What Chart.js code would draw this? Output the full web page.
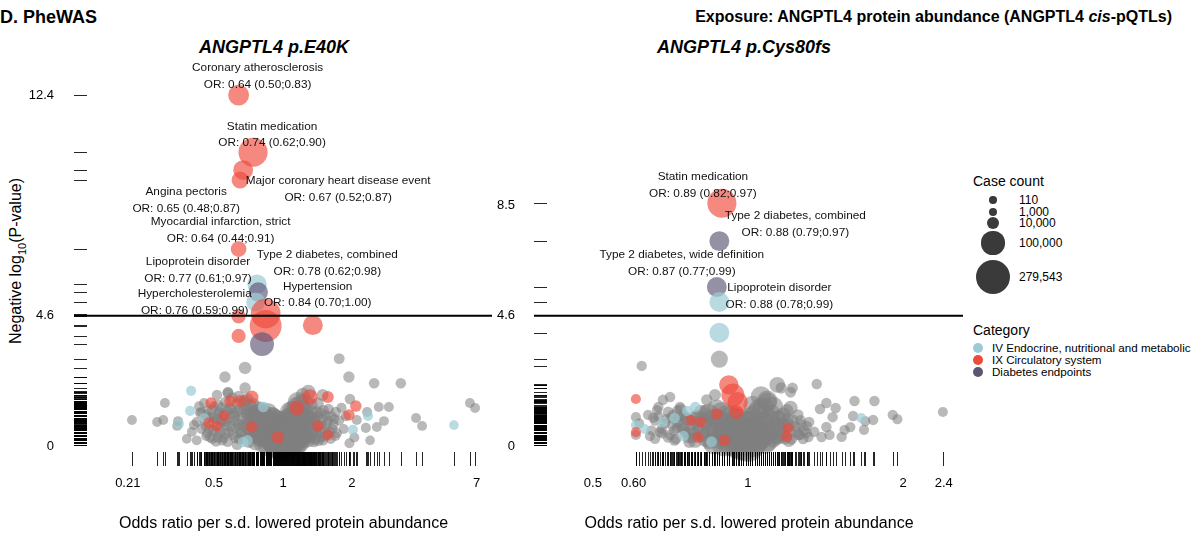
<!DOCTYPE html>
<html lang="en">
<head>
<meta charset="UTF-8">
<title>PheWAS</title>
<script src="https://cdn.jsdelivr.net/npm/chart.js@4.4.0/dist/chart.umd.min.js"></script>
<style>
	body { margin: 0; width: 1200px; height: 533px; position: relative; overflow: hidden; background: #fff;
		font-family: "Liberation Sans", Arial, sans-serif; color: #000; }
	.abs { position: absolute; white-space: nowrap; line-height: 1; }
	canvas { position: absolute; top: 0; }
	#c1 { left: 0; }
	#c2 { left: 470px; }
	.dot { position: absolute; border-radius: 50%; }
</style>
</head>
<body>

<div class="abs" style="left:0;top:8px;font-size:18px;font-weight:bold">D. PheWAS</div>
<div class="abs" style="right:28px;top:9px;font-size:16px;font-weight:bold">Exposure: ANGPTL4 protein abundance (ANGPTL4 <i>cis</i>-pQTLs)</div>
<div class="abs" style="left:274px;top:38px;transform:translateX(-50%);font-size:18px;font-weight:bold;font-style:italic">ANGPTL4 p.E40K</div>
<div class="abs" style="left:744px;top:38px;transform:translateX(-50%);font-size:18px;font-weight:bold;font-style:italic">ANGPTL4 p.Cys80fs</div>
<div class="abs" style="left:18px;top:261px;transform:translate(-50%,-50%) rotate(-90deg);font-size:16px">Negative log<sub style="font-size:11px">10</sub>(P-value)</div>

<canvas id="c1" width="500" height="533"></canvas>
<canvas id="c2" width="500" height="533"></canvas>
<div id="legend"></div>

<script>
	// categories and legend
	const categories = ['IV Endocrine, nutritional and metabolic', 'IX Circulatory system', 'Diabetes endpoints']
	const catColors = ['#9ccbd5', '#f04a3a', '#5e5574']
	const catFill = ['rgba(156,203,213,0.7)', 'rgba(240,74,58,0.65)', 'rgba(94,85,116,0.65)']
	const grayFill = 'rgba(128,128,128,0.55)'
	const caseCountLegend = [110, 1000, 10000, 100000, 279543]
	const threshold = 4.6

	// ---- ANGPTL4 p.E40K ----
	const e40kHitNames = ['Coronary atherosclerosis', 'Statin medication', 'Major coronary heart disease event', 'Angina pectoris',
		'Myocardial infarction, strict', 'Lipoprotein disorder', 'Type 2 diabetes, combined', 'Hypercholesterolemia', 'Hypertension']
	const e40kHitOR = [0.64, 0.74, 0.67, 0.65, 0.64, 0.77, 0.78, 0.76, 0.84]
	const e40kHitLo = [0.50, 0.62, 0.52, 0.48, 0.44, 0.61, 0.62, 0.59, 0.70]
	const e40kHitHi = [0.83, 0.90, 0.87, 0.87, 0.91, 0.97, 0.98, 0.99, 1.00]
	const e40kHitLogP = [12.4, 10.38, 9.75, 9.40, 6.96, 5.72, 5.44, 5.09, 4.68]
	const e40kHitCases = [75000, 190000, 65000, 40000, 30000, 60000, 60000, 55000, 200000]
	const e40kHitCat = [1, 1, 1, 1, 1, 0, 2, 0, 1]

	// other phenotypes: [OR, -log10 P, cases]
	const e40kEndo = [[0.397, 1.95, 4000], [0.393, 1.24, 4000], [0.452, 0.99, 4000], [0.351, 0.78, 4000], [5.58, 0.74, 3000],
		[2.35, 1.06, 4000], [2.02, 0.57, 4000], [0.70, 0.2, 5000], [0.82, 1.38, 6000], [0.67, 0.14, 5000]]
	const e40kCirc = [[0.84, 4.24, 240000], [1.35, 4.27, 65000], [0.64, 4.58, 20000], [0.64, 3.89, 20000],
		[0.485, 1.52, 8000], [0.475, 0.81, 8000], [0.515, 0.71, 6000], [0.553, 1.06, 6000], [0.587, 1.59, 8000],
		[0.65, 1.59, 10000], [0.732, 1.73, 15000], [1.31, 1.73, 30000], [1.57, 1.73, 10000], [2.08, 1.41, 8000],
		[1.94, 1.1, 8000], [1.57, 0.39, 6000], [1.42, 0.71, 8000], [1.15, 1.34, 25000], [0.73, 0.67, 8000], [0.95, 0.3, 12000]]
	const e40kDiab = [[0.81, 3.6, 112000]]
	const e40kGray = [
		[1.76, 3.09, 6000], [0.683, 2.76, 12000], [0.558, 2.44, 8000], [1.94, 2.44, 8000], [2.5, 2.22, 5000], [3.27, 2.22, 5000],
		[0.683, 2.05, 8000], [0.515, 1.8, 5000], [0.575, 1.9, 6000], [1.29, 1.9, 25000], [1.22, 1.8, 22000], [1.49, 1.8, 10000],
		[1.96, 1.66, 5000], [6.55, 1.52, 3500], [6.9, 1.34, 3500], [3.81, 0.99, 3500], [4.05, 0.71, 3500], [2.9, 1.38, 3500],
		[2.62, 1.38, 3500], [2.33, 1.2, 4000], [2.76, 0.88, 3500], [2.57, 0.67, 3500], [2.3, 0.64, 4000], [2.1, 0.92, 4000],
		[0.219, 0.92, 3500], [0.282, 0.85, 3500], [0.30, 0.92, 3500], [0.305, 1.52, 3500], [0.348, 0.88, 3500], [0.345, 0.71, 3500],
		[0.408, 0.74, 3500], [0.452, 1.52, 4000], [0.434, 1.17, 4000], [0.575, 1.87, 6000], [0.52, 1.45, 5000], [0.53, 0.46, 5000],
		[0.466, 0.46, 4000], [0.495, 0.57, 5000],
		[0.60, 1.3, 6000], [0.62, 0.9, 5000], [0.63, 1.5, 6000], [0.65, 0.6, 6000], [0.66, 1.2, 8000], [0.67, 0.35, 5000],
		[0.68, 1.6, 10000], [0.69, 0.9, 8000], [0.70, 1.3, 12000], [0.71, 0.5, 8000], [0.72, 1.1, 15000], [0.73, 0.75, 12000],
		[0.74, 1.45, 20000], [0.75, 0.3, 10000], [0.76, 1.0, 20000], [0.77, 0.6, 18000], [0.78, 1.3, 30000], [0.79, 0.2, 15000],
		[0.80, 0.85, 35000], [0.81, 0.45, 30000], [0.82, 1.15, 40000], [0.83, 0.7, 45000], [0.84, 0.25, 35000], [0.85, 1.0, 50000],
		[0.86, 0.55, 60000], [0.87, 0.15, 50000], [0.88, 0.85, 70000], [0.89, 0.4, 80000], [0.90, 1.05, 50000], [0.91, 0.1, 90000],
		[0.92, 0.65, 100000], [0.93, 0.3, 110000], [0.94, 0.9, 60000], [0.95, 0.05, 150000], [0.96, 0.5, 120000],
		[0.97, 0.2, 180000], [0.98, 0.75, 90000], [0.99, 0.02, 250000], [1.00, 0.35, 160000], [1.01, 0.1, 220000],
		[1.02, 0.6, 110000], [1.03, 0.25, 170000], [1.04, 0.85, 80000], [1.05, 0.05, 200000],
		[1.06, 0.45, 120000], [1.07, 1.0, 70000], [1.08, 0.2, 140000], [1.09, 0.7, 90000], [1.10, 1.25, 60000], [1.11, 0.35, 100000],
		[1.12, 0.9, 70000], [1.13, 0.1, 80000], [1.14, 1.4, 50000], [1.15, 0.55, 60000], [1.16, 1.1, 60000], [1.17, 0.25, 40000],
		[1.18, 0.8, 40000], [1.19, 1.5, 45000], [1.20, 0.45, 30000],
		[1.22, 1.0, 25000], [1.23, 0.15, 20000], [1.25, 1.3, 30000], [1.26, 0.65, 20000], [1.28, 0.35, 15000], [1.30, 1.05, 15000],
		[1.32, 1.45, 20000], [1.34, 0.6, 12000], [1.36, 0.9, 12000], [1.38, 0.25, 8000], [1.40, 1.2, 10000], [1.42, 1.5, 10000],
		[1.45, 0.55, 8000], [1.48, 0.95, 8000], [1.50, 1.25, 8000], [1.52, 0.35, 6000], [1.55, 0.8, 6000], [1.58, 1.3, 6000],
		[1.60, 0.5, 5000], [1.63, 1.05, 5000], [1.66, 0.75, 5000], [1.70, 1.2, 5000], [1.72, 0.45, 4000], [1.76, 0.9, 4000],
		[1.80, 1.35, 4000], [1.84, 0.6, 4000], [1.88, 1.05, 4000],
		[0.40, 0.5, 3500], [0.42, 0.85, 3500], [0.44, 1.2, 4000], [0.46, 0.7, 4000], [0.47, 1.0, 4000], [0.48, 0.3, 4000],
		[0.49, 1.3, 5000], [0.50, 0.85, 5000], [0.51, 0.15, 4000], [0.52, 1.1, 5000], [0.53, 0.65, 5000], [0.54, 1.35, 6000],
		[0.55, 0.3, 5000], [0.56, 0.95, 6000], [0.57, 1.25, 6000], [0.58, 0.5, 5000], [0.59, 1.0, 6000],
		[0.38, 0.25, 3000], [2.05, 0.3, 3500], [2.4, 0.2, 3000], [1.95, 0.1, 3500],
		[0.76, 0.15, 40000], [0.78, 0.75, 50000], [0.79, 1.0, 60000], [0.80, 0.35, 70000], [0.81, 1.25, 40000], [0.82, 0.6, 90000],
		[0.83, 0.1, 80000], [0.84, 0.95, 70000], [0.85, 0.4, 110000], [0.86, 1.2, 50000], [0.87, 0.75, 100000], [0.88, 0.05, 120000],
		[0.89, 1.0, 80000], [0.90, 0.55, 130000], [0.91, 0.3, 150000], [0.92, 0.95, 70000], [0.93, 0.15, 170000], [0.94, 0.6, 140000],
		[0.95, 0.4, 180000], [0.96, 0.85, 90000], [0.97, 0.1, 230000], [0.98, 0.45, 200000], [0.99, 0.6, 150000], [1.00, 0.15, 270000],
		[1.01, 0.5, 190000], [1.02, 0.05, 240000], [1.03, 0.7, 130000], [1.04, 0.4, 180000], [1.05, 0.9, 100000], [1.06, 0.15, 200000],
		[1.07, 0.6, 140000], [1.08, 1.2, 80000], [1.09, 0.35, 160000], [1.10, 0.85, 110000], [1.11, 0.05, 150000], [1.12, 0.6, 120000],
		[1.13, 1.15, 80000], [1.14, 0.3, 100000], [1.15, 0.85, 90000], [1.16, 1.55, 70000], [1.17, 0.6, 70000], [1.18, 0.1, 60000],
		[1.19, 1.0, 60000], [1.20, 1.3, 50000], [1.21, 0.75, 40000], [1.22, 0.3, 35000], [1.24, 1.55, 45000], [1.25, 0.5, 30000],
		[1.27, 1.0, 25000], [1.29, 0.2, 20000], [1.31, 0.8, 18000], [1.33, 1.2, 15000], [1.35, 0.45, 12000], [1.37, 1.0, 10000],
		[1.39, 0.6, 9000], [1.43, 0.2, 8000], [1.46, 1.15, 8000],
		[0.62, 0.3, 8000], [0.64, 0.75, 10000], [0.66, 0.45, 10000], [0.68, 1.3, 12000], [0.70, 0.8, 15000], [0.71, 0.15, 12000],
		[0.72, 1.4, 20000], [0.73, 0.45, 20000], [0.74, 0.9, 25000], [0.75, 1.2, 30000], [0.77, 0.4, 30000], [0.61, 1.15, 6000],
		[0.63, 0.05, 6000], [0.57, 0.7, 5000], [0.54, 0.9, 5000], [0.50, 1.05, 4500], [0.46, 1.1, 4000], [0.44, 0.6, 3500],
		[0.43, 1.4, 4000], [0.42, 0.2, 3500], [0.56, 1.55, 6000], [0.60, 1.7, 7000], [0.64, 1.75, 8000], [0.67, 1.55, 10000],
		[0.70, 1.65, 12000],
		[0.455, 0.9, 3500], [0.462, 0.35, 3500], [0.468, 1.25, 3500], [0.476, 0.6, 3500], [0.483, 1.0, 4000], [0.491, 0.25, 4000],
		[0.498, 1.4, 4000], [0.506, 0.5, 4000], [0.513, 0.95, 4000], [0.521, 0.3, 4500], [0.527, 1.2, 4500], [0.535, 0.8, 4500],
		[0.543, 0.2, 4500], [0.548, 1.15, 5000], [0.562, 0.45, 5000], [0.567, 0.85, 5000], [0.573, 0.15, 5000], [0.585, 1.35, 5000],
		[0.593, 0.7, 5500], [0.605, 0.4, 6000], [0.615, 1.05, 6000], [0.625, 0.65, 6000], [0.635, 1.25, 7000], [0.645, 0.25, 7000],
		[0.655, 0.95, 7000], [0.675, 0.7, 8000], [0.685, 0.25, 8000], [0.695, 1.15, 9000], [0.705, 0.6, 9000], [0.715, 0.9, 10000],
		[0.725, 0.3, 10000], [0.735, 1.2, 12000], [0.745, 0.55, 12000],
		[1.215, 0.55, 12000], [1.235, 0.9, 12000], [1.245, 0.25, 10000], [1.265, 1.1, 10000], [1.275, 0.45, 9000], [1.295, 0.85, 9000],
		[1.315, 0.3, 8000], [1.325, 1.0, 8000], [1.345, 0.55, 7000], [1.365, 0.15, 7000], [1.385, 0.8, 6000], [1.405, 0.45, 6000],
		[1.415, 1.05, 6000], [1.435, 0.7, 5500], [1.455, 0.3, 5000], [1.475, 0.75, 5000], [1.495, 0.2, 5000], [1.515, 0.6, 4500],
		[1.535, 1.1, 4500], [1.565, 0.45, 4500], [1.585, 0.9, 4000], [1.615, 0.25, 4000], [1.645, 0.6, 4000], [1.675, 0.95, 4000],
		[1.695, 0.35, 3500]]
	const e40kXTicks = [0.21, 0.5, 1, 2, 7]
	const e40kXTickLabels = ['0.21', '0.5', '1', '2', '7']
	const e40kYTicks = [0, 4.6, 12.4]

	// ---- ANGPTL4 p.Cys80fs ----
	const cysHitNames = ['Statin medication', 'Type 2 diabetes, combined', 'Type 2 diabetes, wide definition', 'Lipoprotein disorder']
	const cysHitOR = [0.89, 0.88, 0.87, 0.88]
	const cysHitLo = [0.82, 0.79, 0.77, 0.78]
	const cysHitHi = [0.97, 0.97, 0.99, 0.99]
	const cysHitLogP = [8.58, 7.24, 5.62, 5.09]
	const cysHitCases = [190000, 65000, 65000, 65000]
	const cysHitCat = [1, 2, 2, 0]

	const cysEndo = [[0.88, 4.0, 65000], [0.606, 0.74, 4000], [0.79, 1.38, 5000], [0.762, 1.24, 5000], [0.72, 0.99, 5000],
		[0.684, 0.85, 5000], [1.66, 0.99, 4000], [0.75, 0.35, 5000], [0.85, 0.15, 6000], [0.63, 0.6, 4000]]
	const cysCirc = [[0.918, 2.16, 60000], [0.935, 1.8, 100000], [0.606, 1.66, 4000], [0.955, 1.55, 70000], [0.775, 0.92, 5000],
		[0.81, 0.85, 6000], [0.606, 0.49, 4000], [0.87, 1.13, 8000], [1.195, 0.64, 6000], [1.19, 0.32, 6000], [0.9, 0.2, 8000],
		[0.95, 1.2, 20000], [0.8, 0.3, 6000]]
	const cysDiab = []
	const cysGray = [
		[0.88, 3.07, 40000], [0.622, 2.83, 4500], [1.14, 2.16, 30000], [1.16, 2.05, 8000], [1.22, 2.05, 6000], [1.21, 1.9, 6000],
		[1.36, 2.19, 5000], [1.61, 1.59, 5000], [1.76, 1.59, 5000], [2.39, 1.2, 4000], [1.91, 1.1, 4500], [1.95, 0.95, 4500],
		[1.75, 0.92, 4500], [1.6, 1.06, 4500], [1.69, 0.88, 4500], [1.54, 0.57, 4500], [1.58, 0.67, 4500], [1.68, 0.57, 4000],
		[1.52, 0.32, 4500], [1.46, 1.02, 5000], [1.48, 1.34, 5000], [1.42, 1.52, 5000], [1.38, 1.31, 5000], [1.30, 0.71, 5000],
		[1.42, 0.67, 5000], [1.44, 0.39, 4500], [1.39, 0.32, 5000], [1.30, 0.46, 5000], [1.31, 0.32, 5000], [1.26, 0.39, 5000],
		[0.606, 1.02, 4000], [0.606, 0.39, 4000], [0.666, 1.27, 4500], [0.684, 1.63, 5000], [0.706, 1.73, 5000], [0.67, 1.38, 4500],
		[0.712, 0.74, 4500], [0.738, 1.38, 5000], [0.735, 1.02, 5000], [0.825, 1.27, 6000], [0.832, 1.63, 8000], [0.863, 1.8, 10000],
		[0.728, 0.64, 5000], [0.755, 0.46, 5000], [0.807, 0.32, 6000],
		[0.74, 0.8, 6000], [0.75, 1.1, 8000], [0.76, 0.5, 6000], [0.77, 0.9, 10000], [0.78, 0.3, 8000], [0.79, 1.05, 12000],
		[0.80, 0.65, 15000], [0.81, 1.2, 20000], [0.82, 0.4, 20000], [0.83, 0.85, 30000], [0.84, 0.15, 25000], [0.85, 1.0, 40000],
		[0.86, 0.55, 50000], [0.87, 1.3, 60000], [0.88, 0.25, 70000], [0.89, 0.8, 80000], [0.90, 0.45, 100000], [0.91, 1.1, 70000],
		[0.92, 0.1, 120000], [0.93, 0.7, 110000], [0.94, 0.35, 150000], [0.95, 0.95, 90000], [0.96, 0.05, 200000], [0.97, 0.55, 160000],
		[0.98, 0.2, 220000], [0.99, 0.8, 120000], [1.00, 0.02, 260000], [1.01, 0.4, 180000], [1.02, 1.0, 90000], [1.03, 0.15, 150000],
		[1.04, 0.6, 110000], [1.05, 1.3, 70000], [1.06, 0.3, 100000], [1.07, 0.85, 80000], [1.08, 0.1, 80000], [1.09, 1.55, 60000],
		[1.10, 0.5, 60000], [1.11, 1.15, 50000], [1.12, 0.25, 40000], [1.13, 0.75, 40000], [1.15, 1.0, 30000], [1.16, 0.4, 25000],
		[1.18, 0.7, 20000], [1.19, 1.25, 15000], [1.20, 0.2, 15000], [1.22, 0.9, 12000], [1.24, 0.5, 10000], [1.25, 1.1, 8000],
		[1.27, 0.75, 6000], [1.28, 0.25, 6000],
		[0.70, 0.3, 5000], [0.71, 1.0, 6000], [0.72, 0.55, 6000], [0.73, 1.25, 6000], [0.69, 0.8, 5000], [0.68, 0.45, 5000],
		[0.66, 0.9, 4500], [0.65, 0.55, 4500], [0.64, 1.1, 4500],
		[1.06, 1.75, 70000], [1.09, 1.6, 70000], [1.02, 1.45, 50000],
		[0.78, 0.6, 20000], [0.79, 0.2, 25000], [0.80, 1.0, 30000], [0.81, 0.5, 35000], [0.82, 0.9, 45000], [0.83, 0.3, 55000],
		[0.84, 1.15, 60000], [0.85, 0.7, 80000], [0.86, 0.1, 90000], [0.87, 0.9, 100000], [0.88, 0.45, 120000], [0.89, 1.15, 90000],
		[0.90, 0.1, 150000], [0.91, 0.7, 140000], [0.92, 0.4, 180000], [0.93, 1.0, 110000], [0.94, 0.15, 200000], [0.95, 0.6, 170000],
		[0.96, 0.35, 220000], [0.97, 0.85, 140000], [0.98, 0.05, 250000], [0.99, 0.5, 200000], [1.00, 0.3, 230000], [1.01, 0.75, 150000],
		[1.02, 0.15, 210000], [1.03, 0.55, 160000], [1.04, 1.1, 100000], [1.05, 0.3, 140000], [1.06, 0.8, 110000], [1.07, 1.35, 80000],
		[1.08, 0.5, 100000], [1.09, 0.2, 90000], [1.10, 0.9, 80000], [1.11, 0.6, 60000], [1.12, 1.4, 60000], [1.13, 0.35, 40000],
		[1.14, 0.95, 40000], [1.15, 0.6, 30000], [1.17, 1.1, 25000], [1.18, 0.3, 20000], [1.20, 0.75, 15000], [1.21, 1.35, 20000],
		[0.72, 0.2, 6000], [0.73, 0.85, 8000], [0.74, 1.3, 8000], [0.75, 0.6, 10000], [0.76, 0.95, 12000], [0.77, 0.15, 12000],
		[0.70, 1.2, 6000], [0.68, 0.6, 5000], [0.66, 0.25, 4500], [0.67, 1.05, 5000],
		[0.615, 0.8, 4000], [0.645, 0.35, 4000], [0.655, 1.0, 4500], [0.675, 0.5, 4500], [0.695, 0.95, 5000], [0.705, 0.4, 5000],
		[0.715, 1.1, 5000], [0.725, 0.25, 5500], [0.745, 0.65, 6000], [0.755, 1.0, 6000], [0.765, 0.3, 7000], [0.775, 0.75, 8000],
		[0.785, 0.45, 9000], [0.795, 0.85, 10000],
		[1.145, 0.3, 20000], [1.165, 0.8, 15000], [1.175, 0.45, 12000], [1.195, 0.95, 10000], [1.205, 0.55, 10000], [1.215, 0.25, 8000],
		[1.235, 0.7, 8000], [1.255, 0.4, 7000], [1.265, 0.9, 6000], [1.285, 0.55, 6000], [1.315, 0.85, 5000], [1.345, 0.5, 5000]]
	const cysXTicks = [0.5, 0.6, 1, 2, 2.4]
	const cysXTickLabels = ['0.5', '0.60', '1', '2', '2.4']
	const cysYTicks = [0, 4.6, 8.5]

	// label placement (pixel offsets from the point: dx, dy of first line)
	const e40kLabelPos = [[19, -27], [19, -26], [95, 11], [-54, 12], [-18, -27], [-59, -22], [69, -37], [-61, -8], [52, -27]]
	const cysLabelPos = [[-19, -26], [76, -25], [-35, -32], [60, -14]]

	Chart.defaults.font.family = '"Liberation Sans", Arial, sans-serif'
	Chart.defaults.color = '#000'

	function radius(n) {
		return 3.45 + 0.0255 * Math.sqrt(n)
	}

	function toBubbles(rows) {
		return rows.map(r => ({x: r[0], y: r[1], r: radius(r[2])}))
	}

	function makePanel(id, p) {
		const hits = p.hitOR.map((or, i) => ({x: or, y: p.hitLogP[i], r: radius(p.hitCases[i])}))
		const allPts = [].concat(p.gray, p.endo, p.circ, p.diab, p.hitOR.map((or, i) => [or, p.hitLogP[i]]))

		const panelPlugin = {
			id: 'panel_' + id,
			afterDatasetsDraw(chart) {
				const {ctx, chartArea: a, scales: {x, y}} = chart
				ctx.save()
				// rugs
				ctx.strokeStyle = 'rgba(0,0,0,0.85)'
				ctx.lineWidth = 1
				ctx.beginPath()
				allPts.forEach(pt => {
					const px = Math.round(x.getPixelForValue(pt[0])) + 0.5
					ctx.moveTo(px, a.bottom + 6)
					ctx.lineTo(px, a.bottom + 20)
					const py = Math.round(y.getPixelForValue(pt[1])) + 0.5
					ctx.moveTo(a.left - 1, py)
					ctx.lineTo(a.left + 12, py)
				})
				ctx.stroke()
				// significance line
				const ty = y.getPixelForValue(threshold)
				ctx.strokeStyle = '#000'
				ctx.lineWidth = 2
				ctx.beginPath()
				ctx.moveTo(a.left - 1, ty)
				ctx.lineTo(a.right, ty)
				ctx.stroke()
				// labels
				ctx.fillStyle = '#111'
				ctx.font = '11.8px "Liberation Sans", Arial, sans-serif'
				ctx.textAlign = 'center'
				ctx.textBaseline = 'middle'
				p.hitNames.forEach((name, i) => {
					const px = x.getPixelForValue(p.hitOR[i])
					const py = y.getPixelForValue(p.hitLogP[i])
					const [dx, dy] = p.labelPos[i]
					ctx.fillText(name, px + dx, py + dy)
					const orText = 'OR: ' + p.hitOR[i].toFixed(2) + ' (' + p.hitLo[i].toFixed(2) + ';' + p.hitHi[i].toFixed(2) + ')'
					ctx.fillText(orText, px + dx, py + dy + 16.5)
				})
				ctx.restore()
			}
		}

		return new Chart(document.getElementById(id), {
			type: 'bubble',
			data: {
				datasets: [
					{label: 'hits', data: hits, backgroundColor: p.hitCat.map(c => catFill[c]), borderWidth: 0, order: 1, clip: false},
					{label: categories[2], data: toBubbles(p.diab), backgroundColor: catFill[2], borderWidth: 0, order: 2, clip: false},
					{label: categories[1], data: toBubbles(p.circ), backgroundColor: catFill[1], borderWidth: 0, order: 3, clip: false},
					{label: categories[0], data: toBubbles(p.endo), backgroundColor: catFill[0], borderWidth: 0, order: 4, clip: false},
					{label: 'other', data: toBubbles(p.gray), backgroundColor: grayFill, borderWidth: 0, order: 5, clip: false}
				]
			},
			options: {
				responsive: false,
				animation: false,
				events: [],
				layout: {autoPadding: false, padding: {top: 60, right: p.padRight, left: 0, bottom: 0}},
				plugins: {legend: {display: false}, tooltip: {enabled: false}},
				scales: {
					x: {
						type: 'logarithmic',
						min: p.xMin,
						max: p.xMax,
						afterBuildTicks: s => { s.ticks = p.xTicks.map(v => ({value: v})) },
						afterFit: s => { s.height = 87 },
						// invisible tick marks push the labels down without widening the side padding
						grid: {display: true, drawOnChartArea: false, drawTicks: true, tickLength: 30, color: 'rgba(0,0,0,0)'},
						border: {display: false},
						ticks: {
							autoSkip: false, maxRotation: 0, padding: 0, font: {size: 13},
							callback: (v, i) => p.xTickLabels[i]
						},
						title: {display: true, text: 'Odds ratio per s.d. lowered protein abundance', font: {size: 16}, padding: {top: 0, bottom: 0}}
					},
					y: {
						min: 0,
						max: 13.64,
						afterBuildTicks: s => { s.ticks = p.yTicks.map(v => ({value: v})) },
						afterFit: s => { s.width = p.yWidth },
						grid: {display: false},
						border: {display: false},
						ticks: {padding: p.yPad, font: {size: 13}, callback: v => String(v)}
					}
				}
			},
			plugins: [panelPlugin]
		})
	}

	makePanel('c1', {
		hitNames: e40kHitNames, hitOR: e40kHitOR, hitLo: e40kHitLo, hitHi: e40kHitHi, hitLogP: e40kHitLogP,
		hitCases: e40kHitCases, hitCat: e40kHitCat, labelPos: e40kLabelPos,
		gray: e40kGray, endo: e40kEndo, circ: e40kCirc, diab: e40kDiab,
		xTicks: e40kXTicks, xTickLabels: e40kXTickLabels, yTicks: e40kYTicks,
		xMin: 0.1235, xMax: 8.18, yWidth: 75, yPad: 13, padRight: 8
	})

	makePanel('c2', {
		hitNames: cysHitNames, hitOR: cysHitOR, hitLo: cysHitLo, hitHi: cysHitHi, hitLogP: cysHitLogP,
		hitCases: cysHitCases, hitCat: cysHitCat, labelPos: cysLabelPos,
		gray: cysGray, endo: cysEndo, circ: cysCirc, diab: cysDiab,
		xTicks: cysXTicks, xTickLabels: cysXTickLabels, yTicks: cysYTicks,
		xMin: 0.386, xMax: 2.615, yWidth: 65, yPad: 12, padRight: 7
	})

	// legend (html)
	const legend = document.getElementById('legend')
	let html = '<div class="abs" style="left:973px;top:174px;font-size:14px">Case count</div>'
	const sizeYs = [200, 212, 223, 243, 277]
	caseCountLegend.forEach((n, i) => {
		const r = radius(n)
		html += '<div class="dot" style="background:#3a3a3a;left:' + (993 - r) + 'px;top:' + (sizeYs[i] - r) + 'px;width:' + (2 * r) + 'px;height:' + (2 * r) + 'px"></div>'
		html += '<div class="abs" style="left:1019px;top:' + (sizeYs[i] - 6) + 'px;font-size:12px">' + n.toLocaleString('en-US') + '</div>'
	})
	html += '<div class="abs" style="left:973px;top:323px;font-size:14px">Category</div>'
	const catYs = [348, 360, 372]
	categories.forEach((c, i) => {
		html += '<div class="dot" style="background:' + catColors[i] + ';left:973px;top:' + (catYs[i] - 5) + 'px;width:10px;height:10px"></div>'
		html += '<div class="abs" style="left:992px;top:' + (catYs[i] - 6) + 'px;font-size:11.6px">' + c + '</div>'
	})
	legend.innerHTML = html
</script>

</body>
</html>
